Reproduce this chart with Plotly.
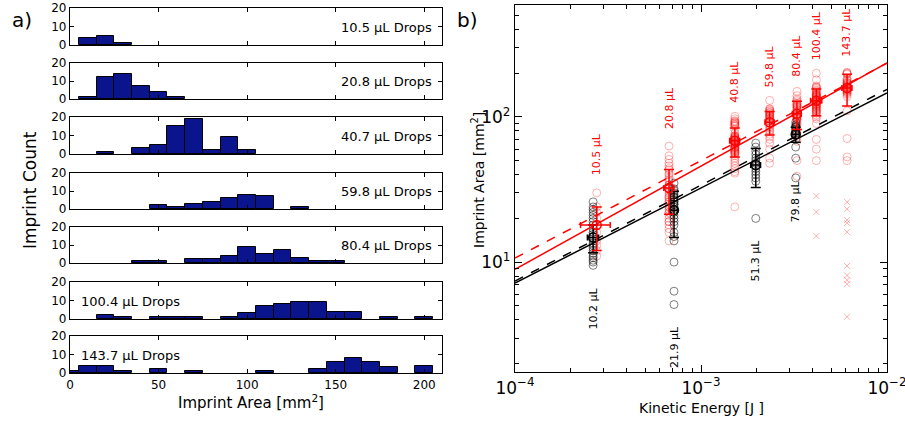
import numpy as np
import plotly.graph_objects as go

### Data ###

# imprint areas [mm^2] per drop volume (panel a histograms, panel b light red circles)
area_10_5 = [11, 12, 13, 14, 16, 18, 20, 22, 24, 30]
area_20_8 = [14, 16, 17, 18, 19, 19, 20, 21, 22, 22, 23, 24, 24,
             25, 26, 26, 27, 28, 28, 29, 30, 31, 32, 32, 33, 34, 34,
             36, 37, 38, 40, 41, 43, 44, 46, 48, 51, 54, 63]
area_40_7 = [24, 41, 42, 44, 46, 48, 50, 52, 54,
             55.5, 56, 57, 57, 58, 59, 59, 60, 61, 61, 62, 62, 63, 64, 64.5,
             65.5, 66, 66, 67, 67, 68, 68, 69, 69, 70, 70, 71, 71, 72, 72, 73, 73, 74, 74.5,
             77, 82, 86, 87, 88, 89, 90, 91, 92, 93, 94, 97, 101]
area_59_8 = [48, 52, 60, 66, 70, 73, 76, 79, 81, 84, 86, 88, 90, 91, 93, 94,
             96, 97, 98, 100, 101, 102, 103, 104, 106, 107, 108, 110, 111, 113, 114, 130]
area_80_4 = [39, 50, 68, 73, 78, 83, 86, 89, 91, 94, 96, 97, 98, 99, 100, 101, 102, 103, 104,
             106, 108, 110, 112, 114, 116, 117, 119, 120, 121, 123, 124, 127, 130, 133, 140, 150]
area_100_4 = [50, 60, 70, 90, 97, 100, 103, 106, 107, 109, 110, 111, 113, 114,
              116, 117, 118, 120, 121, 122, 123, 124, 126, 127, 128, 129, 130, 131, 132, 133, 134,
              136, 137, 138, 139, 140, 141, 142, 143, 144, 147, 149, 151, 153, 157, 159, 161, 163, 180, 200]
excl_100_4 = [15.1, 22.1, 28.5]          # drawn as crosses
area_143_7 = [50, 53, 71, 110, 138, 143, 146, 148, 150, 151, 153, 154, 156, 157, 158, 159, 160,
              161, 162, 164, 166, 168, 169, 171, 172, 174, 177, 180, 183, 197, 199, 201, 203]
excl_143_7 = [4.2, 7.05, 7.5, 8.1, 9.4, 16.1, 18.6, 19.5, 23.2, 25.9]

hist_labels = ["10.5 μL Drops", "20.8 μL Drops", "40.7 μL Drops", "59.8 μL Drops",
               "80.4 μL Drops", "100.4 μL Drops", "143.7 μL Drops"]

# panel b, red series
red_labels = ["10.5 μL", "20.8 μL", "40.8 μL", "59.8 μL", "80.4 μL", "100.4 μL", "143.7 μL"]
red_energy = [2.75e-4, 6.73e-4, 1.52e-3, 2.34e-3, 3.28e-3, 4.17e-3, 6.1e-3]
red_energy_err = [0.5e-4, 0.42e-4, 0.95e-4, 1.3e-4, 1.8e-4, 2.9e-4, 3.8e-4]
red_mean = [18, 32.4, 68.5, 92, 105, 129, 158]
red_err = [6, 11, 15.5, 17, 23, 27, 39]
red_label_y = [55, 115, 174, 221, 264, 362, 380]

# panel b, black series
ref_labels = ["10.2 μL", "21.9 μL", "51.3 μL", "79.8 μL"]
ref_energy = [2.63e-4, 7.16e-4, 1.97e-3, 3.23e-3]
ref_energy_err = [0.18e-4, 0.3e-4, 1.2e-4, 1.5e-4]
ref_mean = [14.8, 22.8, 46.7, 76]
ref_err = [3.2, 8, 14, 9]
ref_label_y = [4.8, 2.6, 10.2, 26]
ref_10_2 = [9.5, 10, 10.3, 10.7, 11, 11.5, 12, 12.5, 13, 13.5, 14, 14.5, 15, 15.5, 16,
            17, 18, 19, 20, 21, 22, 23, 24, 26]
ref_21_9 = [5.1, 6.3, 10, 14, 15, 16, 18, 19, 20, 21, 22, 23, 24, 25, 25, 26, 26,
            27, 28, 28, 29, 30, 31, 32, 35]
ref_51_3 = [20, 36, 38, 40, 42, 44, 46, 48, 50, 52, 55, 58, 62, 66]
ref_79_8 = [38, 52, 62, 70, 75, 78, 80, 82, 84, 85, 86, 88, 92]

# power law fits: area = A * E**b
fits = [  # (A, b, colour, dash)
    (6223, 0.711, "red", "solid"),
    (5152, 0.671, "red", "dash"),
    (2999, 0.6555, "black", "solid"),
    (3236, 0.66, "black", "dash"),
]

### Style ###
W, H = 905, 425
FONT = "DejaVu Sans"
NAVY = "#0a148c"
PINK = "rgba(255,0,0,0.3)"
GREY = "rgba(0,0,0,0.5)"

def px_x(p):
    return p / W

def px_y(p):
    return 1 - p / H

# histogram panels in pixels (top, bottom)
panel_px = [(8, 45), (63, 99), (117, 154), (173, 209), (227, 263), (282, 319), (336, 373)]
LX0, LX1 = px_x(70), px_x(442)
RX0, RX1 = px_x(515), px_x(887)
RY0, RY1 = px_y(372), px_y(5)

axis_common = dict(showline=True, linecolor="black", linewidth=1.3, mirror="ticks",
                   ticks="inside", tickcolor="black", showgrid=False, zeroline=False,
                   automargin=False, tickfont=dict(family=FONT, size=12, color="black"))

fig = go.Figure()
annotations = []

### a) histograms ###
hist_sets = [area_10_5, area_20_8, area_40_7, area_59_8, area_80_4,
             area_100_4 + excl_100_4, area_143_7 + excl_143_7]
for i, vals in enumerate(hist_sets):
    n = "" if i == 0 else str(i + 1)
    fig.add_trace(go.Histogram(x=vals, xbins=dict(start=-5, end=215, size=10),
                               marker=dict(color=NAVY, line=dict(color="black", width=1)),
                               xaxis="x" + n, yaxis="y" + n, showlegend=False, hoverinfo="skip"))
    top, bot = panel_px[i]
    fig.layout["xaxis" + n] = dict(axis_common, domain=[LX0, LX1], anchor="y" + n,
                                   range=[0, 210], tickvals=[0, 50, 100, 150, 200],
                                   ticklen=4, showticklabels=(i == 6))
    fig.layout["yaxis" + n] = dict(axis_common, domain=[px_y(bot), px_y(top)], anchor="x" + n,
                                   range=[0, 20], tickvals=[0, 10, 20], ticklen=4)
    left = i >= 5
    annotations.append(dict(text=hist_labels[i], xref="x" + n, yref="y" + n,
                            x=5 if left else 205.5, y=9.5, showarrow=False,
                            xanchor="left" if left else "right", yanchor="middle",
                            font=dict(family=FONT, size=13, color="black")))

### b) scatter ###
red_sets = [area_10_5, area_20_8, area_40_7, area_59_8, area_80_4, area_100_4, area_143_7]
for e, vals in zip(red_energy, red_sets):
    fig.add_trace(go.Scatter(x=[e] * len(vals), y=vals, mode="markers", xaxis="x8", yaxis="y8",
                             marker=dict(symbol="circle-open", size=8, color=PINK, line=dict(width=1)),
                             showlegend=False, hoverinfo="skip"))
for e, vals in zip([red_energy[5], red_energy[6]], [excl_100_4, excl_143_7]):
    fig.add_trace(go.Scatter(x=[e] * len(vals), y=vals, mode="markers", xaxis="x8", yaxis="y8",
                             marker=dict(symbol="x-thin-open", size=6, color=PINK, line=dict(width=1, color=PINK)),
                             showlegend=False, hoverinfo="skip"))
for e, vals in zip(ref_energy, [ref_10_2, ref_21_9, ref_51_3, ref_79_8]):
    fig.add_trace(go.Scatter(x=[e] * len(vals), y=vals, mode="markers", xaxis="x8", yaxis="y8",
                             marker=dict(symbol="circle-open", size=8, color=GREY, line=dict(width=1)),
                             showlegend=False, hoverinfo="skip"))

e_line = [1e-4, 1e-2]
for A, b, col, dash in fits:
    fig.add_trace(go.Scatter(x=e_line, y=[A * e ** b for e in e_line], mode="lines",
                             xaxis="x8", yaxis="y8", line=dict(color=col, width=1.5, dash=dash),
                             showlegend=False, hoverinfo="skip"))

for ex, exerr, my, myerr, col in [(ref_energy, ref_energy_err, ref_mean, ref_err, "black"),
                                  (red_energy, red_energy_err, red_mean, red_err, "red")]:
    fig.add_trace(go.Scatter(x=ex, y=my, mode="markers", xaxis="x8", yaxis="y8",
                             marker=dict(symbol="circle-open", size=9, color=col, line=dict(width=1.5)),
                             error_y=dict(type="data", array=myerr, color=col, thickness=1.5, width=5),
                             error_x=dict(type="data", array=exerr, color=col, thickness=1.5, width=3),
                             showlegend=False, hoverinfo="skip"))

for lab, e, y in zip(red_labels, red_energy, red_label_y):
    annotations.append(dict(text=lab, xref="x8", yref="y8", x=np.log10(e), y=np.log10(y),
                            textangle=-90, showarrow=False, font=dict(family=FONT, size=11, color="red")))
for lab, e, y in zip(ref_labels, ref_energy, ref_label_y):
    annotations.append(dict(text=lab, xref="x8", yref="y8", x=np.log10(e), y=np.log10(y),
                            textangle=-90, showarrow=False, font=dict(family=FONT, size=11, color="black")))

minor_x = [m * 10.0 ** d for d in (-4, -3) for m in range(2, 10)]
minor_y = [m * 10.0 ** d for d in (0, 1, 2) for m in range(2, 10)]
big = dict(family=FONT, size=17, color="black")
fig.layout["xaxis8"] = dict(axis_common, type="log", range=[-4, -2], domain=[RX0, RX1], anchor="y8",
                            tickvals=[1e-4, 1e-3, 1e-2],
                            ticktext=["10<sup>−4</sup>", "10<sup>−3</sup>", "10<sup>−2</sup>"],
                            ticklen=7, tickfont=big, ticklabeloverflow="allow",
                            minor=dict(ticks="inside", ticklen=4, tickvals=minor_x, tickcolor="black"))
fig.layout["yaxis8"] = dict(axis_common, type="log", range=[np.log10(1.75), np.log10(590)],
                            domain=[RY0, RY1], anchor="x8",
                            tickvals=[10, 100], ticktext=["10<sup>1</sup>", "10<sup>2</sup>"],
                            ticklen=7, tickfont=big,
                            minor=dict(ticks="inside", ticklen=4, tickvals=minor_y, tickcolor="black"))

### titles ###
def label(text, x, y, size, angle=0):
    annotations.append(dict(text=text, xref="paper", yref="paper", x=px_x(x), y=px_y(y),
                            showarrow=False, textangle=angle, xanchor="center", yanchor="middle",
                            font=dict(family=FONT, size=size, color="black")))

label("a)", 22, 20, 20)
label("b)", 468, 20, 20)
label("Imprint Count", 30, 190, 17, -90)
label("Imprint Area [mm<sup>2</sup>]", 251, 402, 15)
label("Imprint Area [mm<sup>2</sup>]", 478, 180, 14, -90)
label("Kinetic Energy [J ]", 701, 408, 14)

fig.update_layout(width=W, height=H, margin=dict(l=0, r=0, t=0, b=0),
                  paper_bgcolor="white", plot_bgcolor="white", bargap=0,
                  annotations=annotations, font=dict(family=FONT))
# drop the browser's default 8px page margin so the figure sits at the window corner
fig.write_html("out.html", config={"displayModeBar": False},
               post_script="document.body.style.margin = '0px';")
